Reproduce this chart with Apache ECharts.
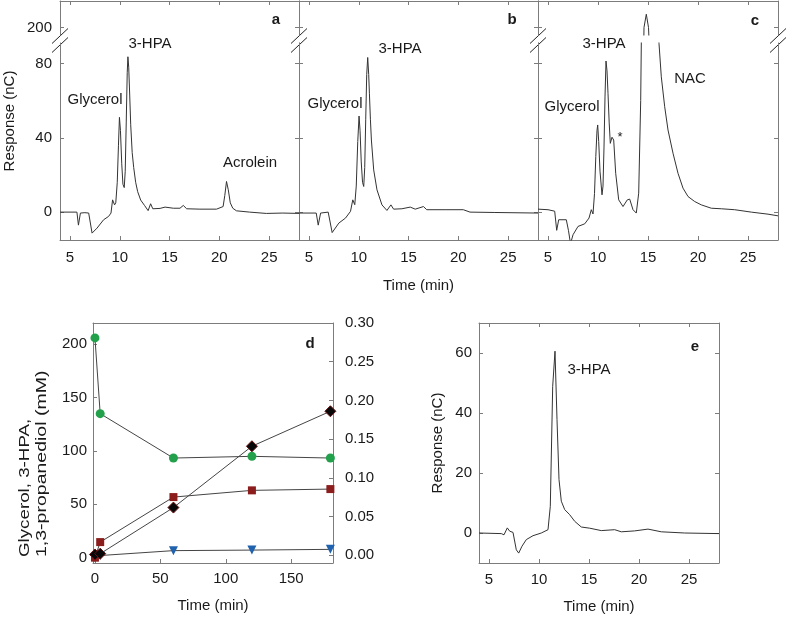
<!DOCTYPE html>
<html>
<head>
<meta charset="utf-8">
<style>
html, body { margin: 0; padding: 0; background: #fff; }
#chart { width: 787px; height: 617px; }
</style>
<script src="https://cdn.jsdelivr.net/npm/echarts@6/dist/echarts.min.js"></script>
</head>
<body>
<div id="chart"></div>
<script>
// ---- values ----
// panel a: chromatogram (time in min, response in nC)
const timeA = [4.0, 5.7, 5.85, 6.05, 6.5, 6.88, 7.22, 7.72, 8.38, 8.88, 9.12, 9.28, 9.48, 9.6, 9.75,
  9.87, 9.97, 10.07, 10.2, 10.32, 10.45, 10.55, 10.65, 10.75, 10.82, 10.9, 11.0, 11.1, 11.25, 11.4,
  11.6, 11.8, 12.1, 12.5, 12.85, 13.1, 13.32, 14.05, 14.55, 15.38, 16.05, 16.38, 16.72, 18.05, 19.72,
  20.38, 20.55, 20.72, 20.9, 21.1, 21.35, 21.72, 23.05, 24.72, 26.38, 28.0];
const respA = [0, 0, -7, -0.5, -0.3, -0.5, -11.3, -8.6, -4.1, -2.3, -0.5, 6.6, 3.9, 5, 16,
  36, 51, 44, 26, 15, 13.2, 22, 48, 75, 83.6, 78, 63, 47, 32, 24,
  16, 11, 6.5, 3.5, 0.8, 4.5, 1.8, 2, 2.7, 2.1, 2.1, 3.6, 1.8, 1.6, 1.6,
  3, 9, 16.5, 12, 5, 2.1, 0.7, 0, -0.7, -0.5, -0.7];

// panel b
const timeB = [4.0, 5.73, 5.93, 6.17, 6.93, 7.33, 8.0, 8.67, 9.17, 9.4, 9.6, 9.75, 9.9, 10.03,
  10.13, 10.25, 10.38, 10.5, 10.6, 10.7, 10.8, 10.9, 11.0, 11.07, 11.17, 11.27, 11.5, 11.83, 12.33,
  12.83, 13.23, 13.5, 14.33, 15.17, 15.67, 16.5, 16.83, 18.67, 20.5, 21.17, 23.67, 28.0];
const respB = [-0.5, -0.5, -7, -0.5, 0, -11, -5.9, -3.2, 0.4, 6.6, 4, 14, 38, 51.7,
  44, 27, 16, 13.8, 24, 50, 74, 83.2, 74, 64, 50, 38.8, 22.7, 12, 3.9,
  0.9, 3.9, 1.6, 1.8, 2.7, 1.6, 3, 1.3, 1.3, 1.3, 0, -0.2, -0.5];

// panel c
const timeC = [4.0, 5.0, 5.67, 5.87, 6.07, 6.83, 7.05, 7.25, 7.5, 8.0, 8.67, 9.1, 9.33, 9.5, 9.65,
  9.78, 9.9, 9.97, 10.07, 10.2, 10.4, 10.5, 10.6, 10.7, 10.8, 10.9, 11.0, 11.12, 11.23, 11.4,
  11.57, 11.77, 12.07, 12.5, 12.93, 13.17, 13.5, 13.83, 14.07, 14.27, 14.45, 14.6, 14.83, 15.05, 15.3,
  15.8, 16.1, 16.33, 16.67, 17.0, 17.5, 18.0, 18.5, 19.0, 19.67, 20.33, 21.33, 22.33, 23.67, 25.33,
  27.0, 28.0];
const respC = [1.6, 1.3, 0.5, -9.8, -4.1, -4.1, -10, -17, -12.2, -7.7, -6.3, -3.2, 1.3, -1, 10,
  30, 44, 46.9, 38, 22, 9.3, 14, 35, 62, 81.3, 76, 63.9, 48, 37, 40.3,
  38.8, 20.9, 6.6, 3, 6.6, 7, 1.3, -0.5, 10.2, 60, 150, 200, 207, 200, 170,
  120, 90.7, 72.8, 56.7, 44.2, 31.7, 20.9, 12.9, 8.4, 5.7, 3.9, 2.1, 1.8, 1.3, 0,
  -1.1, -2];

// panel d: time course
const timeD = [0, 4, 60, 120, 180];
const glycerolD = [206, 135, 93.4, 95, 93.4];
const hpaD = [0, 14.6, 56.8, 63.1, 64.3];
const pdoD = [0, 2, 6.6, 7.1, 7.8];
const rightD = [0.001, 0.002, 0.0616, 0.1408, 0.186];

// panel e
const timeE = [4.0, 6.23, 6.5, 6.83, 7.07, 7.4, 7.73, 7.97, 8.3, 8.73, 9.4, 10.23, 10.9, 11.13, 11.37,
  11.6, 11.8, 12.0, 12.23, 12.57, 13.07, 13.57, 14.23, 15.07, 16.23, 17.57, 18.23, 19.57, 20.9, 22.23,
  24.57, 28.0];
const respE = [0, -0.2, -0.6, 1.7, 0.6, 0.2, -5.6, -6.7, -4.4, -2.2, -0.9, 0, 1.1, 8.9, 48.9,
  60.6, 37.8, 17.8, 10.6, 7.8, 6.1, 3.9, 2, 1.6, 0.8, 1.1, 0.4, 0.7, 1.3, 0.4,
  0, -0.2];

// tick positions
const rtTicks = [5, 10, 15, 20, 25];
const respTicksLow = [0, 40, 80];
const respTicksHigh = [200];
const timeDTicks = [0, 50, 100, 150];
const dLeftTicks = [0, 50, 100, 150, 200];
const dRightTicks = [0, 0.05, 0.1, 0.15, 0.2, 0.25, 0.3];
const respTicksE = [0, 20, 40, 60];

// ---- styling ----
const FONT = "'Liberation Sans', Arial, sans-serif";
const AXIS_GRAY = '#7c7c7c';
const TEXT = '#1a1a1a';
const TRACE = '#333333';

function zip(xs, ys) { return xs.map((x, i) => [x, ys[i]]); }

function axis(gridIndex, position, min, max, ticks, opts) {
  opts = opts || {};
  const a = {
    type: 'value', gridIndex, position, min, max,
    axisLine: { show: true, onZero: false, lineStyle: { color: AXIS_GRAY, width: 1 } },
    axisTick: { show: !!ticks, inside: true, length: 4, lineStyle: { color: AXIS_GRAY } },
    axisLabel: { show: !!opts.labels, margin: opts.margin != null ? opts.margin : 8,
      color: TEXT, fontSize: 15, fontFamily: FONT },
    splitLine: { show: false }
  };
  if (ticks) {
    a.axisTick.customValues = ticks;
    a.axisLabel.customValues = ticks;
  }
  if (opts.formatter) a.axisLabel.formatter = opts.formatter;
  if (opts.name) {
    a.name = opts.name;
    a.nameLocation = 'middle';
    a.nameGap = opts.nameGap;
    a.nameTextStyle = { color: TEXT, fontSize: 15, fontFamily: FONT };
  }
  return a;
}

const grids = [], xAxes = [], yAxes = [], series = [];

// top row: three chromatograms with a broken y axis
const topPanels = [
  { left: 60, width: 239, data: zip(timeA, respA), labels: true },
  { left: 299, width: 239, data: zip(timeB, respB), labels: false, name: 'Time (min)' },
  { left: 538, width: 240, data: zip(timeC, respC), labels: false }
];
topPanels.forEach(p => {
  // upper piece (around 200)
  const gU = grids.length;
  grids.push({ left: p.left, top: 1, width: p.width, height: 34 });
  const xU = xAxes.length;
  xAxes.push(axis(gU, 'top', 4, 28, rtTicks));
  const yU = yAxes.length;
  yAxes.push(axis(gU, 'left', 196, 214, respTicksHigh, { labels: p.labels, margin: 8 }));
  yAxes.push(axis(gU, 'right', 196, 214, respTicksHigh));
  // lower piece
  const gL = grids.length;
  grids.push({ left: p.left, top: 43, width: p.width, height: 197 });
  const xL = xAxes.length;
  xAxes.push(axis(gL, 'bottom', 4, 28, rtTicks, { labels: true, margin: 10, name: p.name, nameGap: 38 }));
  const yL = yAxes.length;
  yAxes.push(axis(gL, 'left', -15, 91, respTicksLow, { labels: p.labels, margin: 8 }));
  yAxes.push(axis(gL, 'right', -15, 91, respTicksLow));

  [[xU, yU], [xL, yL]].forEach(([xi, yi]) => {
    series.push({
      type: 'line', xAxisIndex: xi, yAxisIndex: yi, data: p.data,
      symbol: 'none', clip: true, silent: true,
      lineStyle: { color: TRACE, width: 1 }
    });
  });
});

// panel d
const gD = grids.length;
grids.push({ left: 93, top: 323, width: 240, height: 240 });
const xD = xAxes.length;
xAxes.push(axis(gD, 'bottom', -1.5, 182, timeDTicks, { labels: true, margin: 8, name: 'Time (min)', nameGap: 35 }));
xAxes.push(axis(gD, 'top', -1.5, 182, null));
const yDL = yAxes.length;
yAxes.push(axis(gD, 'left', -5, 220, dLeftTicks, { labels: true, margin: 6 }));
const yDR = yAxes.length;
yAxes.push(axis(gD, 'right', -0.01, 0.3, dRightTicks, { labels: true, margin: 12, formatter: v => v.toFixed(2) }));

const dLine = { color: '#454545', width: 1 };
series.push(
  { type: 'line', xAxisIndex: xD, yAxisIndex: yDL, data: zip(timeD, glycerolD), symbol: 'circle', symbolSize: 9,
    showAllSymbol: true, itemStyle: { color: '#23a04b' }, lineStyle: dLine, silent: true },
  { type: 'line', xAxisIndex: xD, yAxisIndex: yDL, data: zip(timeD, pdoD), symbol: 'triangle', symbolRotate: 180,
    symbolSize: 9, showAllSymbol: true, itemStyle: { color: '#2062ae' }, lineStyle: dLine, silent: true },
  { type: 'line', xAxisIndex: xD, yAxisIndex: yDL, data: zip(timeD, hpaD), symbol: 'rect', symbolSize: 8,
    showAllSymbol: true, itemStyle: { color: '#8b1d1d' }, lineStyle: dLine, silent: true },
  { type: 'line', xAxisIndex: xD, yAxisIndex: yDR, data: zip(timeD, rightD), symbol: 'diamond', symbolSize: 11,
    showAllSymbol: true, itemStyle: { color: '#080808', borderColor: '#6b1010', borderWidth: 1 },
    lineStyle: dLine, silent: true }
);

// panel e
const gE = grids.length;
grids.push({ left: 479, top: 323, width: 240, height: 240 });
const xE = xAxes.length;
xAxes.push(axis(gE, 'bottom', 4, 28, rtTicks, { labels: true, margin: 9, name: 'Time (min)', nameGap: 36 }));
xAxes.push(axis(gE, 'top', 4, 28, rtTicks));
const yE = yAxes.length;
yAxes.push(axis(gE, 'left', -10, 70, respTicksE, { labels: true, margin: 7 }));
yAxes.push(axis(gE, 'right', -10, 70, respTicksE));
series.push({
  type: 'line', xAxisIndex: xE, yAxisIndex: yE, data: zip(timeE, respE),
  symbol: 'none', silent: true, lineStyle: { color: TRACE, width: 1 }
});

// ---- annotations ----
function txt(x, y, s, o) {
  o = o || {};
  return {
    type: 'text', x, y, rotation: o.rot || 0, scaleX: o.stretch || 1, silent: true,
    style: { text: s, fill: TEXT, font: (o.bold ? 'bold ' : '') + (o.size || 15) + 'px ' + FONT,
      align: o.align || 'center', verticalAlign: 'middle' }
  };
}
const graphic = [];
// break marks on each vertical border of the top row
[60, 299, 538, 778].forEach(x => {
  [[43.5, 28.5], [52.5, 37.5]].forEach(([y1, y2]) => {
    graphic.push({ type: 'line', silent: true,
      shape: { x1: x - 8, y1, x2: x + 8, y2 }, style: { stroke: '#222', lineWidth: 1 } });
  });
});
graphic.push(
  txt(10, 121, 'Response (nC)', { rot: Math.PI / 2 }),
  txt(276, 20, 'a', { bold: true }),
  txt(512, 20, 'b', { bold: true }),
  txt(755, 21, 'c', { bold: true }),
  txt(150, 44, '3-HPA'),
  txt(95, 100, 'Glycerol'),
  txt(250, 163, 'Acrolein'),
  txt(400, 49, '3-HPA'),
  txt(335, 104, 'Glycerol'),
  txt(604, 44, '3-HPA'),
  txt(572, 107, 'Glycerol'),
  txt(620, 137, '*', { size: 13 }),
  txt(690, 79, 'NAC'),
  txt(310, 344, 'd', { bold: true }),
  txt(25, 557, 'Glycerol, 3-HPA,', { rot: Math.PI / 2, align: 'left', stretch: 1.25 }),
  txt(42, 557, '1,3-propanediol (mM)', { rot: Math.PI / 2, align: 'left', stretch: 1.3 }),
  txt(695, 347, 'e', { bold: true }),
  txt(589, 370, '3-HPA'),
  txt(438, 443, 'Response (nC)', { rot: Math.PI / 2 })
);

const chart = echarts.init(document.getElementById('chart'), null, { renderer: 'canvas' });
chart.setOption({
  backgroundColor: '#fff',
  animation: false,
  textStyle: { fontFamily: FONT },
  grid: grids,
  xAxis: xAxes,
  yAxis: yAxes,
  series: series,
  graphic: graphic
});
</script>
</body>
</html>
